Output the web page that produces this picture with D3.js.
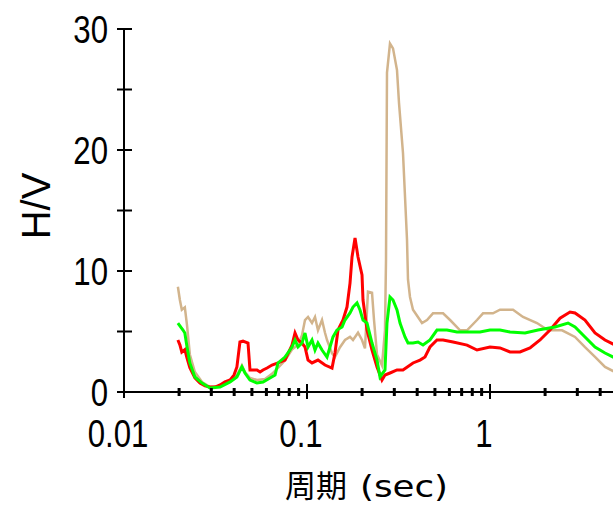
<!DOCTYPE html>
<html>
<head>
<meta charset="utf-8">
<script src="https://cdn.jsdelivr.net/npm/d3@7"></script>
<style>
	body { margin: 0; background: #fff; }
	svg { display: block; }
</style>
</head>
<body>
<div id="chart"></div>
<script>
/* Datos: [periodo (s), H/V] */
const tanData = [
	[0.0197, 8.7], [0.0202, 7.6], [0.0207, 6.8], [0.0215, 7.0], [0.0221, 5.5], [0.0229, 3.1],
	[0.0244, 1.65], [0.0267, 0.83], [0.0295, 0.41], [0.0335, 0.5], [0.038, 0.91], [0.0414, 1.4],
	[0.0441, 2.2], [0.0458, 1.65], [0.0488, 1.16], [0.0533, 0.99], [0.059, 1.07], [0.0644, 1.5],
	[0.0694, 2.0], [0.0758, 2.6], [0.0828, 3.5], [0.0893, 3.9], [0.0939, 4.7], [0.0975, 5.95],
	[0.1013, 6.2], [0.1065, 5.7], [0.1106, 6.2], [0.1148, 5.1], [0.1208, 5.95], [0.1254, 4.9],
	[0.1286, 4.3], [0.137, 3.2], [0.1422, 2.9], [0.1515, 3.7], [0.1613, 4.3], [0.1718, 4.55],
	[0.1784, 4.3], [0.19, 4.9], [0.1998, 4.3], [0.2074, 3.6], [0.2154, 8.3], [0.2266, 8.2],
	[0.2324, 5.95], [0.2413, 3.1], [0.2569, 2.2], [0.2668, 5.1], [0.2702, 10.9], [0.2736, 26.4],
	[0.2841, 28.8], [0.2951, 28.4], [0.3103, 26.6], [0.3182, 23.9], [0.3346, 19.75], [0.3519, 12.6],
	[0.3563, 9.3], [0.3654, 7.85], [0.3795, 6.8], [0.425, 5.7], [0.4526, 5.95], [0.488, 6.5],
	[0.554, 6.5], [0.605, 5.95], [0.686, 5.1], [0.749, 5.1], [0.849, 5.95], [0.916, 6.5],
	[1.038, 6.5], [1.134, 6.8], [1.336, 6.8], [1.515, 6.2], [1.806, 5.7], [2.075, 5.1],
	[2.475, 5.1], [2.914, 4.55], [3.304, 3.7], [3.748, 2.9], [4.25, 2.07], [4.82, 1.65]
];

const redData = [
	[0.0197, 4.3], [0.0202, 3.9], [0.0207, 3.3], [0.0215, 3.5], [0.0221, 2.8], [0.0229, 2.0],
	[0.0244, 1.16], [0.026, 0.74], [0.0277, 0.5], [0.0295, 0.41], [0.0314, 0.41], [0.0335, 0.58],
	[0.0356, 0.83], [0.038, 0.99], [0.0399, 1.4], [0.0414, 2.07], [0.043, 4.13], [0.0447, 4.2],
	[0.0476, 4.05], [0.0488, 1.82], [0.0533, 1.82], [0.0554, 1.65], [0.0575, 1.82], [0.0605, 1.98],
	[0.0644, 2.23], [0.0694, 2.4], [0.0758, 2.64], [0.0828, 3.88], [0.086, 4.88], [0.0893, 4.3],
	[0.0939, 4.05], [0.0975, 3.72], [0.1013, 2.64], [0.1065, 2.4], [0.1148, 2.64], [0.1254, 2.23],
	[0.137, 1.98], [0.1422, 3.22], [0.1477, 5.12], [0.1573, 5.95], [0.1654, 7.02], [0.1718, 9.0],
	[0.1762, 11.16], [0.183, 12.73], [0.19, 11.16], [0.1998, 9.67], [0.2023, 7.6], [0.2128, 5.12],
	[0.2266, 3.47], [0.2413, 2.07], [0.2569, 0.99], [0.2668, 1.4], [0.2841, 1.57], [0.3103, 1.82],
	[0.3346, 1.82], [0.3795, 2.4], [0.4145, 2.64], [0.4414, 2.89], [0.47, 3.72], [0.513, 4.3],
	[0.554, 4.3], [0.628, 4.13], [0.749, 3.88], [0.849, 3.47], [1.0, 3.72], [1.134, 3.64],
	[1.286, 3.31], [1.459, 3.31], [1.654, 3.64], [1.876, 4.3], [2.128, 5.12], [2.413, 6.1],
	[2.737, 6.61], [2.914, 6.53], [3.304, 5.95], [3.748, 4.88], [4.25, 4.3], [4.82, 3.88]
];

const greenData = [
	[0.0197, 5.7], [0.021, 5.12], [0.0215, 4.88], [0.0221, 3.72], [0.0229, 2.4], [0.0244, 1.24],
	[0.0267, 0.74], [0.0295, 0.33], [0.0335, 0.41], [0.038, 0.83], [0.0414, 1.24], [0.0441, 2.07],
	[0.0458, 1.57], [0.0488, 0.99], [0.0533, 0.74], [0.0575, 0.83], [0.0628, 1.16], [0.0669, 1.4],
	[0.0694, 2.4], [0.0758, 2.89], [0.0828, 3.72], [0.086, 4.3], [0.0893, 3.72], [0.0939, 4.05],
	[0.0975, 4.88], [0.1013, 3.72], [0.1065, 4.3], [0.1106, 3.47], [0.1148, 4.05], [0.1208, 3.47],
	[0.1286, 2.89], [0.1336, 3.72], [0.1387, 4.55], [0.1458, 5.12], [0.1554, 5.37], [0.1613, 5.95],
	[0.1718, 6.53], [0.1784, 7.02], [0.1876, 7.36], [0.1948, 6.78], [0.2023, 5.95], [0.2128, 5.7],
	[0.2266, 4.05], [0.2413, 2.64], [0.2505, 1.24], [0.2668, 1.82], [0.2736, 5.7], [0.2841, 7.85],
	[0.2951, 7.6], [0.3103, 6.78], [0.3223, 5.7], [0.3431, 4.55], [0.3563, 4.05], [0.3795, 4.05],
	[0.4042, 4.13], [0.4305, 3.88], [0.47, 4.3], [0.513, 5.12], [0.582, 5.12], [0.66, 4.96],
	[0.749, 4.96], [0.882, 4.96], [1.0, 5.12], [1.134, 5.12], [1.286, 4.96], [1.554, 4.88],
	[1.829, 5.12], [2.266, 5.37], [2.669, 5.7], [2.914, 5.37], [3.304, 4.55], [3.748, 3.72],
	[4.25, 3.22], [4.82, 2.81]
];

const yLabelTicks = [0, 10, 20, 30];
const yMinorTicks = [5, 15, 25];
const xLabelTicks = [0.01, 0.1, 1];
const xMinorTicks = [0.02, 0.03, 0.04, 0.05, 0.06, 0.07, 0.08, 0.09,
	0.2, 0.3, 0.4, 0.5, 0.6, 0.7, 0.8, 0.9, 2, 3, 4];

const W = 613, H = 509;
const svg = d3.select("#chart").append("svg").attr("width", W).attr("height", H);

const x = d3.scaleLog().domain([0.01, 4.7]).range([124, 613]);
const y = d3.scaleLinear().domain([0, 30]).range([392, 29]);

// fuente angosta simulada (escala horizontal)
const numFont = "'Liberation Sans', Arial, sans-serif";
const squeeze = 0.8;

/* Curvas */
const line = d3.line().x(d => x(d[0])).y(d => y(d[1]));
const series = [
	{ data: tanData, color: "#d2b48c", width: 2.5 },
	{ data: redData, color: "#ff0000", width: 3 },
	{ data: greenData, color: "#00ff00", width: 3 }
];
const plot = svg.append("g");
plot.append("clipPath").attr("id", "clip").append("rect")
	.attr("x", 124).attr("y", 0).attr("width", W - 124).attr("height", 392);
series.forEach(s => {
	plot.append("path")
		.datum(s.data)
		.attr("clip-path", "url(#clip)")
		.attr("fill", "none")
		.attr("stroke", s.color)
		.attr("stroke-width", s.width)
		.attr("stroke-linejoin", "miter")
		.attr("d", line);
});

/* Eje Y */
const x0 = x(0.01);
svg.append("line").attr("x1", x0).attr("x2", x0).attr("y1", y(30)).attr("y2", y(0) + 6)
	.attr("stroke", "#000").attr("stroke-width", 2);
svg.selectAll(".ytick").data(yLabelTicks.concat(yMinorTicks)).join("line")
	.attr("x1", x0 - 7).attr("x2", d => d === 0 ? x0 : x0 + 8)
	.attr("y1", d => y(d)).attr("y2", d => y(d))
	.attr("stroke", "#000").attr("stroke-width", 2);
svg.selectAll(".ylab").data(yLabelTicks).join("text")
	.attr("transform", d => `translate(${x0 - 16},${y(d)}) scale(${squeeze},1)`)
	.attr("dy", "0.36em")
	.attr("text-anchor", "end")
	.style("font-family", numFont).style("font-size", "39px").attr("fill", "#000")
	.text(d => d);

/* Eje X */
svg.append("line").attr("x1", x0).attr("x2", W).attr("y1", y(0)).attr("y2", y(0))
	.attr("stroke", "#000").attr("stroke-width", 2);
svg.selectAll(".xmaj").data(xLabelTicks.slice(1)).join("line")
	.attr("x1", d => x(d)).attr("x2", d => x(d)).attr("y1", y(0) - 8).attr("y2", y(0) + 7)
	.attr("stroke", "#000").attr("stroke-width", 2);
svg.selectAll(".xmin").data(xMinorTicks).join("line")
	.attr("x1", d => x(d)).attr("x2", d => x(d)).attr("y1", y(0) - 4).attr("y2", y(0) + 4)
	.attr("stroke", "#000").attr("stroke-width", 3);
svg.selectAll(".xlab").data(xLabelTicks).join("text")
	.attr("transform", d => `translate(${x(d) - 6},447) scale(${squeeze},1)`)
	.attr("text-anchor", "middle")
	.style("font-family", numFont).style("font-size", "39px").attr("fill", "#000")
	.text(d => d);

/* Títulos */
const xt = svg.append("text").attr("y", 497).attr("fill", "#000");
xt.append("tspan").attr("x", 285)
	.style("font-family", "'Noto Sans CJK JP', sans-serif").style("font-size", "31px")
	.text("周期");
xt.append("tspan").attr("x", 360).attr("textLength", 88).attr("lengthAdjust", "spacingAndGlyphs")
	.style("font-family", "'DejaVu Sans', sans-serif").style("font-size", "30px")
	.text("(sec)");

svg.append("text")
	.attr("transform", "translate(50,206) rotate(-90)")
	.attr("text-anchor", "middle")
	.style("font-family", "'Liberation Sans', sans-serif").style("font-size", "40px")
	.attr("fill", "#000")
	.text("H/V");
</script>
</body>
</html>
